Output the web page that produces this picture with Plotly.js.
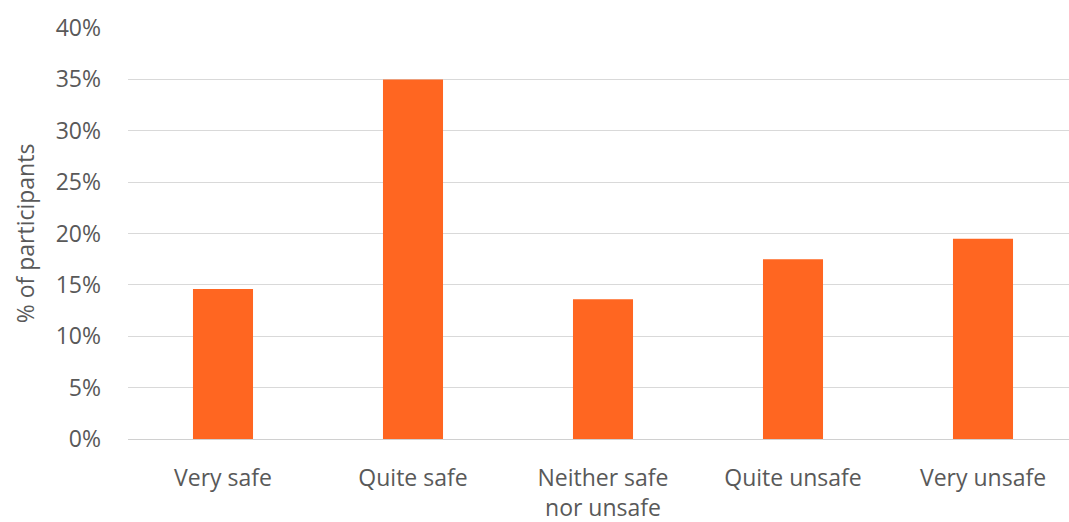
<!DOCTYPE html>
<html>
<head>
<meta charset="utf-8">
<script src="https://cdn.plot.ly/plotly-3.0.1.min.js"></script>
<style>
html,body{margin:0;padding:0;overflow:hidden;background:#fff;}
#chart{width:1080px;height:522px;}
</style>
</head>
<body>
<div id="chart"></div>
<script>
var categories = ["Very safe", "Quite safe", "Neither safe<br>nor unsafe", "Quite unsafe", "Very unsafe"];
var values = [0.146, 0.350, 0.136, 0.175, 0.195];
var yTickVals = [0, 0.05, 0.10, 0.15, 0.20, 0.25, 0.30, 0.35, 0.40];
var yTickText = ["0%", "5%", "10%", "15%", "20%", "25%", "30%", "35%", "40%"];

var trace = {
  type: "bar",
  x: categories,
  y: values,
  marker: {color: "#FF6621"},
  hoverinfo: "none"
};

var layout = {
  width: 1080,
  height: 522,
  margin: {l: 128, r: 2, t: 28, b: 83},
  paper_bgcolor: "#ffffff",
  plot_bgcolor: "#ffffff",
  bargap: 0.684,
  font: {family: "'Open Sans', Lato, sans-serif", color: "#595959", size: 23},
  showlegend: false,
  xaxis: {
    type: "category",
    showgrid: false,
    showline: true,
    linecolor: "#d0d0d0",
    linewidth: 1,
    ticks: "",
    ticklabelstandoff: 18,
    tickfont: {size: 23, color: "#595959"},
    fixedrange: true
  },
  yaxis: {
    range: [0, 0.40],
    tickvals: yTickVals,
    ticktext: yTickText,
    showgrid: true,
    gridcolor: "#d9d9d9",
    gridwidth: 1,
    zeroline: false,
    showline: false,
    ticks: "",
    ticklabelstandoff: 26,
    tickfont: {size: 23, color: "#595959"},
    title: {text: "% of participants", font: {size: 23, color: "#595959"}, standoff: 14},
    fixedrange: true
  }
};

Plotly.newPlot("chart", [trace], layout, {displayModeBar: false, staticPlot: true});
</script>
</body>
</html>
